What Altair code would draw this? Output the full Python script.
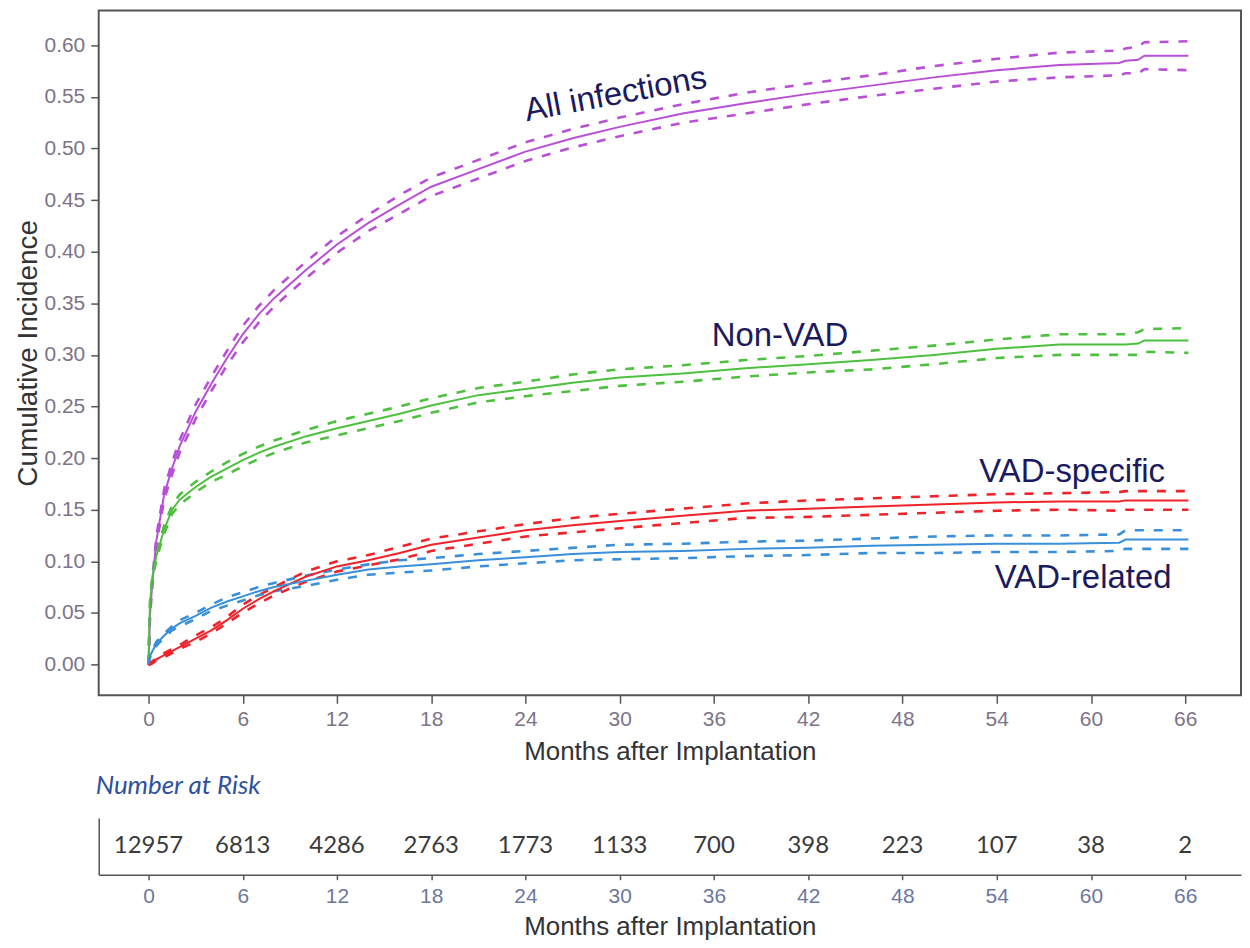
import altair as alt
import pandas as pd

# ---------------- data ----------------
months = [0, 0.05, 0.1, 0.25, 0.5, 1, 1.5, 2, 3, 4, 5, 6, 7, 8, 10, 12, 14, 16, 18, 21,
          24, 27, 30, 34, 38, 42, 46, 50, 54, 58, 61.8, 62.2, 63.0, 63.4, 66.2]

all_est = [0, .025, .05, .08, .12, .165, .19, .212, .245, .272, .297, .32, .339, .355, .382,
           .407, .428, .446, .463, .480, .497, .510, .521, .534, .544, .553, .561, .569, .576,
           .581, .583, .585, .586, .590, .590]
all_lo = [0, .024, .048, .077, .116, .160, .184, .206, .238, .265, .290, .312, .331, .347, .374,
          .399, .420, .437, .454, .471, .488, .501, .512, .525, .534, .543, .551, .558, .565,
          .569, .571, .573, .573, .577, .576]
all_hi = [0, .026, .052, .083, .124, .170, .196, .218, .252, .279, .304, .328, .347, .363, .390,
          .415, .436, .455, .472, .489, .506, .519, .530, .543, .554, .563, .571, .580, .587,
          .593, .595, .597, .599, .603, .604]

non_est = [0, .035, .06, .085, .105, .131, .15, .16, .172, .182, .19, .198, .205, .211, .221,
           .229, .236, .243, .251, .261, .267, .273, .278, .282, .287, .291, .295, .300, .306,
           .310, .310, .310, .311, .314, .314]
non_lo = [0, .034, .058, .082, .102, .127, .146, .155, .167, .177, .184, .192, .199, .205, .215,
          .222, .229, .236, .244, .254, .260, .265, .270, .274, .279, .283, .286, .291, .297,
          .300, .300, .300, .300, .303, .302]
non_hi = [0, .036, .062, .088, .108, .135, .154, .165, .177, .187, .196, .204, .211, .217, .227,
          .236, .243, .250, .258, .268, .274, .281, .286, .290, .295, .299, .304, .309, .315,
          .320, .320, .320, .322, .325, .326]

spec_est = [0, 0, .001, .002, .005, .009, .013, .017, .025, .033, .043, .054, .063, .071, .085,
            .095, .101, .108, .116, .123, .130, .135, .139, .144, .149, .151, .153, .155, .157,
            .158, .158, .159, .159, .159, .159]
spec_lo = [0, 0, 0, .001, .004, .007, .011, .015, .022, .030, .040, .050, .059, .067, .080,
           .090, .096, .102, .110, .117, .124, .128, .132, .137, .142, .143, .145, .147, .149,
           .150, .149, .150, .150, .150, .150]
spec_hi = [0, 0, .002, .003, .006, .011, .015, .019, .028, .036, .046, .058, .067, .075, .090,
           .100, .106, .114, .122, .129, .136, .142, .146, .151, .156, .159, .161, .163, .165,
           .166, .167, .168, .168, .168, .168]

rel_est = [0, .005, .008, .013, .02, .028, .035, .04, .047, .055, .061, .066, .071, .075, .081,
           .087, .092, .095, .097, .101, .104, .107, .109, .110, .112, .113, .115, .116, .117,
           .117, .118, .121, .121, .121, .121]
rel_lo = [0, .004, .007, .012, .018, .026, .033, .037, .044, .052, .057, .062, .067, .071, .076,
          .082, .087, .089, .091, .095, .098, .101, .102, .103, .105, .106, .108, .108, .109,
          .109, .110, .112, .112, .112, .112]
rel_hi = [0, .006, .009, .014, .022, .030, .037, .043, .050, .058, .065, .070, .075, .079, .086,
          .092, .097, .101, .103, .107, .110, .113, .116, .117, .119, .120, .122, .124, .125,
          .125, .126, .130, .130, .130, .130]

series_names = ["All infections", "Non-VAD", "VAD-specific", "VAD-related"]
series_colors = ["#b94fd6", "#4dc03f", "#f0222a", "#3a8fd9"]

label_text = ["Non-VAD", "VAD-specific", "VAD-related"]
label_month = [40.2, 58.8, 59.5]
label_value = [0.3085, 0.177, 0.0744]
rot_label = ["All infections"]
rot_month = [29.85]
rot_value = [0.543]

tick_months = [0, 6, 12, 18, 24, 30, 36, 42, 48, 54, 60, 66]
y_ticks = [0, 0.05, 0.10, 0.15, 0.20, 0.25, 0.30, 0.35, 0.40, 0.45, 0.50, 0.55, 0.60]
risk_counts = [12957, 6813, 4286, 2763, 1773, 1133, 700, 398, 223, 107, 38, 2]

# ---------------- tables ----------------
rows = []
for name, est, lo, hi in zip(series_names,
                             [all_est, non_est, spec_est, rel_est],
                             [all_lo, non_lo, spec_lo, rel_lo],
                             [all_hi, non_hi, spec_hi, rel_hi]):
    for t, e, l, h in zip(months, est, lo, hi):
        rows.append({"month": t, "series": name, "band": "est", "value": e})
        rows.append({"month": t, "series": name, "band": "lo", "value": l})
        rows.append({"month": t, "series": name, "band": "hi", "value": h})
curves = pd.DataFrame(rows)
labels = pd.DataFrame({"label": label_text, "month": label_month, "value": label_value})
rlabels = pd.DataFrame({"label": rot_label, "month": rot_month, "value": rot_value})
risk = pd.DataFrame({"month": tick_months, "n": [str(v) for v in risk_counts],
                     "row": ["Number at Risk"] * len(tick_months)})

AX_FONT = "Liberation Sans"
W = 1146

xscale = alt.Scale(domain=[-3.17, 69.55], nice=False, zero=False)
yscale = alt.Scale(domain=[-0.0299, 0.6338], nice=False, zero=False)
cscale = alt.Scale(domain=series_names, range=series_colors)

x_axis = alt.Axis(values=tick_months, title="Months after Implantation", grid=False,
                  domain=False, tickColor="#555555", tickSize=8, tickWidth=1.5,
                  labelFont=AX_FONT, labelFontSize=21, labelColor="#7d7388",
                  labelPadding=5, titleFont=AX_FONT, titleFontSize=26,
                  titleFontWeight="normal", titleColor="#333333", titlePadding=9,
                  labelOverlap=False)
y_axis = alt.Axis(values=y_ticks, format=".2f", title="Cumulative Incidence", grid=False,
                  domain=False, tickColor="#555555", tickSize=8, tickWidth=1.5,
                  labelFont=AX_FONT, labelFontSize=21, labelColor="#7d7388",
                  labelPadding=6, titleFont=AX_FONT, titleFontSize=28,
                  titleFontWeight="normal", titleColor="#333333", titlePadding=2,
                  labelOverlap=False)

base = alt.Chart(curves)
solid = base.transform_filter(alt.datum.band == "est").mark_line(strokeWidth=2).encode(
    x=alt.X("month:Q", scale=xscale, axis=x_axis),
    y=alt.Y("value:Q", scale=yscale, axis=y_axis),
    color=alt.Color("series:N", scale=cscale, legend=None),
    detail="band:N",
)
dashed = base.transform_filter(alt.datum.band != "est").mark_line(
    strokeWidth=2.6, strokeDash=[9, 10]).encode(
    x=alt.X("month:Q", scale=xscale),
    y=alt.Y("value:Q", scale=yscale),
    color=alt.Color("series:N", scale=cscale, legend=None),
    detail="band:N",
)
txt = alt.Chart(labels).mark_text(font=AX_FONT, fontSize=33, color="#1c1a5e",
                                  align="center", baseline="alphabetic").encode(
    x=alt.X("month:Q", scale=xscale), y=alt.Y("value:Q", scale=yscale), text="label:N")
rtxt = alt.Chart(rlabels).mark_text(font=AX_FONT, fontSize=33, color="#1c1a5e",
                                    align="center", baseline="alphabetic", angle=349.4).encode(
    x=alt.X("month:Q", scale=xscale), y=alt.Y("value:Q", scale=yscale), text="label:N")

main = alt.layer(dashed, solid, txt, rtxt).properties(
    width=W, height=687,
    view=alt.ViewBackground(stroke="#555555", strokeWidth=2))

table_text = alt.Chart(risk).mark_text(font="Lato", fontSize=24, color="#3a3a3a",
                                       baseline="middle", align="center").encode(
    x=alt.X("month:Q", scale=xscale,
            axis=alt.Axis(values=tick_months, title="Months after Implantation", grid=False,
                          domainColor="#555555", domainWidth=1.5, tickColor="#555555",
                          tickSize=5, tickWidth=1.5, labelFont=AX_FONT, labelFontSize=21,
                          labelColor="#6c77a0", labelPadding=6, titleFont=AX_FONT,
                          titleFontSize=26, titleFontWeight="normal", titleColor="#333333",
                          titlePadding=7, labelOverlap=False)),
    y=alt.Y("row:N", scale=alt.Scale(padding=0.5),
            axis=alt.Axis(title=None, labels=False, ticks=False, grid=False,
                          domainColor="#555555", domainWidth=1.5)),
    text="n:N",
)
table = alt.layer(table_text).properties(
    width=W, height=57,
    title=alt.TitleParams("Number at Risk", anchor="start", font="Lato", fontStyle="italic",
                          fontSize=26, fontWeight="normal", color="#2e509e", offset=19, dx=-3),
    view=alt.ViewBackground(stroke="transparent"))

chart = alt.vconcat(main, table, spacing=7).properties(
    padding={"left": 5, "top": 0, "right": 0, "bottom": 0}
).configure_view(stroke="transparent")

chart.save("out.html", embed_options={"renderer": "svg", "actions": False})
